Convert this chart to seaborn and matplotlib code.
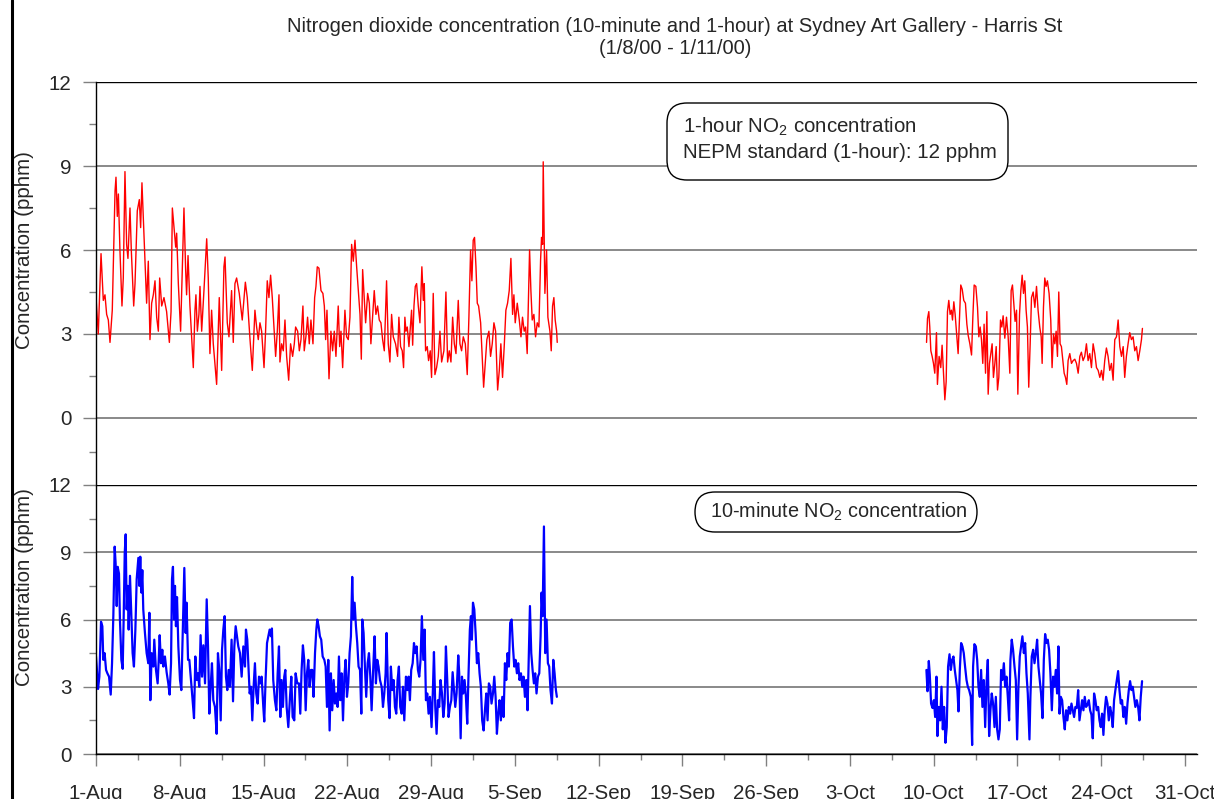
import numpy as np
import pandas as pd
import matplotlib
matplotlib.use("Agg")
import matplotlib.pyplot as plt
import matplotlib.dates as mdates
import seaborn as sns
from matplotlib.patches import FancyBboxPatch
from matplotlib.lines import Line2D
from matplotlib.ticker import FixedLocator, FuncFormatter

# ---------------- data (days since 1 Aug 2000, concentration in pphm) ----------------
START = "2000-08-01"
END = "2000-11-01"

hour_aug_day = [0.00, 0.19, 0.42, 0.61, 0.75, 0.89, 1.03, 1.17, 1.36, 1.59, 1.67, 1.78, 1.87, 2.00, 2.17, 2.28,
    2.42, 2.56, 2.67, 2.84, 2.95, 3.15, 3.26, 3.45, 3.62, 3.73, 3.84, 3.95, 4.09, 4.23, 4.37, 4.51, 4.65, 4.79,
    4.93, 5.07, 5.21, 5.32, 5.49, 5.68, 5.90, 6.13, 6.27, 6.38, 6.52, 6.66, 6.74, 6.88, 7.07, 7.18, 7.35, 7.49,
    7.57, 7.69, 7.85, 7.99, 8.13, 8.27, 8.35, 8.47, 8.60, 8.69, 8.83, 9.02, 9.25, 9.38, 9.52, 9.66, 9.80, 10.08,
    10.30, 10.50, 10.69, 10.78, 10.97, 11.11, 11.33, 11.47, 11.61, 11.75, 11.97, 12.22, 12.48, 12.64,
    12.87, 13.06, 13.28, 13.42, 13.56, 13.70, 13.84, 14.04, 14.17, 14.31, 14.45, 14.59, 14.73, 14.84, 15.01,
    15.15, 15.29, 15.37, 15.51, 15.65, 15.79, 15.93, 16.10, 16.26, 16.43, 16.57, 16.68, 16.85, 16.99, 17.13,
    17.29, 17.40, 17.54, 17.68, 17.82, 17.96, 18.13, 18.27, 18.38, 18.49, 18.63, 18.80, 18.96, 19.08, 19.19,
    19.30, 19.47, 19.63, 19.77, 19.91, 20.05, 20.24, 20.36, 20.47, 20.61, 20.80, 20.94, 21.08, 21.22, 21.36,
    21.50, 21.64, 21.78, 21.92, 22.06, 22.17, 22.28, 22.42, 22.53, 22.70, 22.84, 22.97, 23.11, 23.25, 23.39,
    23.53, 23.67, 23.81, 23.95, 24.09, 24.28, 24.42, 24.56, 24.70, 24.84, 25.03, 25.20, 25.31, 25.45, 25.59,
    25.70, 25.81, 25.90, 26.01, 26.15, 26.29, 26.37, 26.46, 26.57, 26.68, 26.79, 26.93, 27.07, 27.23, 27.35,
    27.43, 27.54, 27.68, 27.79, 27.93, 28.04, 28.18, 28.32, 28.46, 28.60, 28.74, 28.88, 29.07, 29.24, 29.38,
    29.52, 29.66, 29.80, 29.94, 30.08, 30.27, 30.41, 30.55, 30.69, 30.86, 31.02, 31.16, 31.30, 31.41, 31.52,
    31.63, 31.75, 31.86, 31.97, 32.14, 32.27, 32.39, 32.53, 32.66, 32.83, 32.97, 33.11, 33.25, 33.39, 33.56,
    33.70, 33.83, 33.97, 34.11, 34.25, 34.39, 34.53, 34.67, 34.81, 34.92, 35.03, 35.20, 35.37, 35.51, 35.64,
    35.78, 35.90, 36.03, 36.23, 36.34, 36.45, 36.59, 36.73, 36.87, 37.01, 37.15, 37.23, 37.32, 37.37, 37.43,
    37.51, 37.65, 37.76, 37.93, 38.04, 38.15, 38.26, 38.37, 38.49, 38.54]
hour_aug_val = [4.32, 3.0, 5.87, 4.2, 4.4, 3.7, 3.5, 2.7, 3.85, 8.1, 8.6, 7.2, 8.0, 6.0, 4.0, 5.0,
    8.8, 6.2, 5.7, 7.5, 6.0, 4.0, 4.8, 7.4, 7.8, 6.8, 8.4, 7.2, 5.6, 4.1, 5.6, 2.8, 4.1, 4.4,
    4.9, 3.6, 3.1, 5.0, 4.0, 4.3, 3.8, 2.7, 3.8, 7.5, 6.8, 6.1, 6.6, 4.8, 3.1, 4.8, 7.5, 5.3,
    4.4, 5.8, 4.0, 2.9, 1.8, 3.85, 4.4, 3.1, 3.7, 4.7, 3.1, 4.55, 6.4, 5.0, 2.3, 3.85, 2.65, 1.2,
    4.3, 1.7, 5.4, 5.75, 3.4, 2.9, 4.55, 2.7, 4.8, 5.0, 4.45, 3.5, 4.85, 4.3,
    2.8, 1.7, 3.85, 3.25, 2.8, 3.4, 3.1, 1.8, 3.1, 4.9, 4.3, 5.1, 4.3, 3.5, 2.2,
    3.1, 4.4, 2.0, 2.65, 2.4, 3.5, 2.2, 1.35, 2.65, 2.2, 2.65, 3.25, 3.1, 2.4, 2.8,
    4.0, 2.4, 2.9, 3.6, 2.65, 3.5, 2.65, 4.3, 4.7, 5.4, 5.35, 4.55, 4.45, 4.0, 2.8,
    3.85, 1.4, 3.1, 2.4, 3.1, 2.2, 4.0, 2.55, 3.1, 1.8, 3.85, 2.9, 2.8, 3.6, 6.2,
    5.6, 6.35, 5.4, 4.55, 3.7, 2.1, 5.3, 4.2, 3.4, 4.45, 4.1, 2.65, 3.6, 4.55, 3.7,
    4.0, 3.5, 3.4, 2.8, 2.4, 4.9, 2.65, 2.0, 3.7, 2.9, 2.65, 2.2, 3.6, 2.55, 2.4,
    1.8, 3.6, 3.1, 3.25, 2.55, 3.4, 3.85, 2.6, 4.0, 4.7, 4.8, 4.0, 3.4, 5.4, 4.2,
    4.8, 2.4, 2.55, 2.05, 2.4, 1.45, 4.45, 1.55, 1.8, 2.2, 3.1, 2.0, 2.4, 4.5, 2.0,
    2.4, 2.0, 3.6, 2.65, 2.3, 4.2, 2.65, 2.4, 2.9, 2.65, 1.55, 3.6, 6.0, 4.9, 6.35,
    6.45, 5.4, 4.1, 4.0, 3.4, 2.2, 1.1, 2.0, 2.8, 3.1, 2.2, 2.65, 3.4, 3.1, 1.0,
    1.7, 2.65, 1.45, 2.55, 3.85, 4.1, 4.55, 5.7, 3.7, 4.4, 3.4, 4.1, 3.5, 2.9, 3.6,
    3.1, 3.25, 2.3, 6.0, 4.55, 3.5, 3.7, 2.9, 3.4, 3.25, 5.65, 6.45, 6.2, 9.15, 7.2,
    4.45, 6.0, 3.6, 3.1, 2.4, 4.0, 4.3, 3.5, 3.1, 2.7]

hour_oct_day = [69.40, 69.48, 69.59, 69.67, 69.76, 69.87, 69.98, 70.09, 70.23, 70.31, 70.45, 70.59, 70.70,
    70.82, 70.93, 71.04, 71.15, 71.26, 71.37, 71.48, 71.57, 71.68, 71.79, 71.90, 72.04, 72.15, 72.26, 72.38,
    72.51, 72.65, 72.77, 72.88, 73.02, 73.16, 73.27, 73.38, 73.52, 73.66, 73.77, 73.88, 73.99, 74.10, 74.21,
    74.33, 74.44, 74.55, 74.66, 74.77, 74.88, 74.99, 75.11, 75.22, 75.33, 75.44, 75.58, 75.69, 75.80, 75.94,
    76.08, 76.22, 76.36, 76.47, 76.58, 76.69, 76.80, 76.92, 77.03, 77.17, 77.28, 77.39, 77.50, 77.61, 77.72,
    77.83, 77.94, 78.06, 78.17, 78.31, 78.45, 78.59, 78.72, 78.86, 78.98, 79.06, 79.17, 79.28, 79.39, 79.50,
    79.64, 79.78, 79.89, 80.01, 80.12, 80.23, 80.34, 80.45, 80.56, 80.67, 80.79, 80.90, 81.01, 81.12, 81.23,
    81.37, 81.51, 81.65, 81.79, 81.93, 82.07, 82.21, 82.34, 82.48, 82.62, 82.76, 82.90, 83.04, 83.18, 83.32,
    83.46, 83.60, 83.74, 83.88, 84.02, 84.15, 84.29, 84.43, 84.57, 84.71, 84.85, 84.99, 85.13, 85.27, 85.41,
    85.55, 85.69, 85.83, 85.96, 86.10, 86.24, 86.38, 86.52, 86.66, 86.80, 86.94, 87.08, 87.22, 87.36, 87.44]
hour_oct_val = [2.7, 3.55, 3.8, 3.25, 2.4, 2.2, 1.95, 1.6, 3.05, 1.2, 2.2, 1.8, 2.6,
    1.6, 0.65, 1.3, 3.8, 4.2, 3.7, 3.85, 3.5, 4.15, 3.7, 3.1, 2.3, 3.5, 4.75, 4.6,
    4.2, 4.1, 3.35, 2.95, 2.65, 2.25, 3.6, 4.75, 4.7, 3.95, 2.9, 3.25, 2.8, 1.95, 3.35,
    1.6, 3.8, 0.85, 1.95, 2.3, 2.65, 1.45, 1.95, 2.55, 1.0, 1.45, 3.5, 3.25, 3.65, 2.85,
    3.6, 2.9, 1.6, 4.55, 4.75, 4.1, 3.45, 3.85, 0.85, 3.7, 4.55, 5.1, 4.45, 4.9, 3.85,
    3.25, 1.1, 2.65, 4.3, 4.5, 3.95, 4.7, 3.85, 3.25, 2.9, 1.95, 3.95, 5.0, 4.7, 4.9,
    4.45, 3.5, 1.8, 3.0, 2.65, 3.1, 2.2, 4.5, 2.65, 2.55, 2.05, 1.6, 1.45, 1.2, 2.05,
    2.3, 1.95, 2.05, 2.1, 1.95, 1.6, 2.2, 2.35, 2.05, 2.2, 2.65, 2.05, 2.3, 1.8, 2.65,
    2.3, 1.8, 1.7, 1.45, 1.7, 1.35, 2.05, 2.5, 2.2, 1.7, 1.95, 1.35, 2.8, 2.9, 3.5,
    2.55, 2.2, 2.55, 1.45, 2.2, 2.65, 3.05, 2.8, 2.9, 2.4, 2.55, 2.05, 2.4, 2.8, 3.2]

min10_aug_day = [0.00, 0.06, 0.17, 0.28, 0.42, 0.53, 0.61, 0.72, 0.84, 0.95, 1.09, 1.23, 1.34, 1.45, 1.56,
    1.64, 1.73, 1.81, 1.92, 2.00, 2.12, 2.23, 2.31, 2.40, 2.48, 2.56, 2.65, 2.73, 2.84, 2.95, 3.06, 3.17, 3.29,
    3.40, 3.54, 3.62, 3.70, 3.79, 3.87, 3.95, 4.09, 4.23, 4.37, 4.46, 4.54, 4.65, 4.79, 4.87, 5.01, 5.15, 5.24,
    5.32, 5.43, 5.54, 5.63, 5.76, 5.90, 6.04, 6.15, 6.27, 6.35, 6.43, 6.52, 6.60, 6.68, 6.77, 6.88, 7.02, 7.13,
    7.24, 7.38, 7.49, 7.57, 7.69, 7.80, 7.94, 8.05, 8.19, 8.30, 8.41, 8.52, 8.63, 8.74, 8.86, 8.97, 9.11, 9.25,
    9.36, 9.47, 9.58, 9.69, 9.80, 9.94, 10.08, 10.19, 10.30, 10.42, 10.53, 10.64, 10.75, 10.86, 10.97, 11.08,
    11.19, 11.33, 11.45, 11.56, 11.67, 11.78, 11.89, 12.03, 12.17, 12.31, 12.45, 12.53, 12.64,
    12.84, 12.95, 13.06, 13.17, 13.28, 13.39, 13.51, 13.62, 13.73, 13.84, 13.98, 14.06, 14.17, 14.29, 14.40,
    14.51, 14.62, 14.70, 14.81, 14.95, 15.07, 15.18, 15.29, 15.40, 15.51, 15.62, 15.73, 15.82, 15.93, 16.07,
    16.21, 16.32, 16.43, 16.57, 16.68, 16.82, 16.96, 17.07, 17.18, 17.29, 17.40, 17.52, 17.63, 17.74, 17.85,
    17.96, 18.07, 18.18, 18.30, 18.41, 18.49, 18.60, 18.71, 18.82, 18.94, 19.08, 19.19, 19.30, 19.41, 19.52,
    19.63, 19.74, 19.86, 19.97, 20.08, 20.19, 20.30, 20.41, 20.52, 20.64, 20.75, 20.86, 20.97, 21.08, 21.19,
    21.30, 21.41, 21.50, 21.61, 21.72, 21.83, 21.94, 22.06, 22.17, 22.25, 22.36, 22.47, 22.58, 22.70, 22.81,
    22.92, 23.03, 23.17, 23.28, 23.39, 23.50, 23.61, 23.73, 23.87, 23.98, 24.09, 24.20, 24.28, 24.42, 24.53,
    24.64, 24.76, 24.87, 24.98, 25.09, 25.20, 25.31, 25.42, 25.54, 25.65, 25.76,
    25.90, 26.01, 26.12, 26.23, 26.34, 26.46, 26.57, 26.68, 26.79, 26.90, 27.01, 27.12, 27.23, 27.35, 27.46,
    27.57, 27.68, 27.79, 27.90, 28.04, 28.15, 28.24, 28.35, 28.46, 28.57, 28.68, 28.79, 28.91, 29.02, 29.13,
    29.24, 29.35, 29.46, 29.57, 29.69, 29.80, 29.91, 30.02, 30.13, 30.27, 30.35, 30.47, 30.58, 30.69, 30.80,
    30.91, 31.02, 31.13, 31.24, 31.33, 31.41, 31.50, 31.61, 31.72, 31.83, 31.94, 32.05, 32.16, 32.27, 32.39,
    32.50, 32.61, 32.72, 32.83, 32.94, 33.05, 33.17, 33.28, 33.39, 33.50, 33.61, 33.72, 33.83, 33.95, 34.06,
    34.17, 34.28, 34.39, 34.50, 34.61, 34.73, 34.84, 34.95, 35.06, 35.17, 35.28, 35.39, 35.51, 35.62, 35.73,
    35.84, 35.95, 36.06, 36.17, 36.26, 36.37, 36.48, 36.59, 36.70, 36.81, 36.93, 37.04, 37.15, 37.23, 37.32,
    37.37, 37.43, 37.48, 37.54, 37.65, 37.76, 37.87, 37.98, 38.10, 38.21, 38.32, 38.43, 38.51]
min10_aug_val = [4.35, 3.9, 2.9, 3.45, 5.9, 5.7, 4.2, 4.5, 3.75, 3.6, 3.45, 2.65, 4.05, 6.2, 9.25,
    8.5, 6.6, 8.35, 8.05, 6.0, 4.2, 3.8, 6.0, 8.95, 9.8, 6.45, 7.5, 5.55, 7.95, 6.15, 4.5, 3.9, 5.55,
    7.8, 8.75, 7.5, 8.8, 7.2, 8.2, 6.45, 5.4, 4.5, 4.05, 6.3, 2.4, 4.5, 3.9, 5.1, 3.75, 3.15, 4.2,
    5.3, 4.05, 4.65, 3.9, 4.35, 3.65, 3.15, 2.65, 4.05, 7.8, 8.35, 6.0, 7.5, 5.7, 7.0, 4.8, 3.3, 2.85,
    5.25, 8.3, 5.4, 6.75, 4.2, 4.2, 3.3, 2.55, 1.6, 4.35, 3.3, 3.6, 3.0, 5.3, 3.45, 4.85, 3.15, 6.9,
    4.8, 1.8, 3.0, 4.05, 2.4, 2.1, 0.9, 4.5, 3.75, 1.5, 4.65, 5.55, 6.15, 3.45, 2.85, 3.75,
    3.0, 5.1, 2.35, 4.8, 5.7, 5.25, 4.8, 4.5, 3.45, 4.8, 3.9, 5.55, 5.1,
    2.7, 3.0, 1.5, 3.0, 4.05, 2.7, 2.25, 3.45, 3.15, 3.45, 2.1, 1.45, 3.3, 4.95, 5.25,
    5.55, 5.25, 5.6, 3.3, 2.4, 1.95, 3.6, 4.8, 1.65, 3.3, 2.1, 3.45, 3.75, 2.1, 1.2,
    2.55, 3.45, 1.65, 1.5, 3.6, 3.15, 3.15, 1.8, 3.75, 4.85, 4.2, 1.95, 3.6, 4.2, 3.0,
    3.75, 3.75, 2.55, 4.5, 5.55, 6.0, 5.7, 5.25, 5.1, 4.35, 4.2, 3.9, 2.1, 4.2, 1.05,
    3.6, 1.95, 3.3, 2.25, 2.7, 2.1, 4.35, 2.4, 3.6, 1.5, 3.45, 4.2, 2.55, 3.15, 4.5,
    5.25, 7.9, 6.0, 6.75, 5.7, 4.95, 3.9, 3.75, 1.8, 6.0, 5.4, 3.9, 2.55, 4.05, 4.5,
    3.45, 1.95, 3.9, 5.25, 3.15, 4.2, 3.9, 3.3, 3.0, 2.1, 2.7, 3.6, 5.4, 2.4, 1.6,
    3.9, 2.85, 3.3, 2.1, 1.8, 3.3, 3.9, 2.1, 1.8, 3.0, 1.5,
    3.45, 2.85, 3.45, 2.4, 3.75, 4.05, 4.95, 4.5, 4.8, 3.75, 3.45, 4.2, 6.15, 4.2, 5.55,
    2.4, 2.7, 1.8, 2.55, 1.2, 2.85, 4.55, 2.1, 0.9, 2.4, 2.1, 3.3, 2.7, 1.65, 2.25,
    4.8, 3.3, 1.65, 2.1, 2.4, 3.65, 2.85, 2.1, 2.7, 4.4, 3.6, 0.7, 3.45, 2.7, 3.3,
    2.55, 1.35, 3.6, 5.55, 6.15, 5.1, 6.75, 6.45, 5.4, 4.05, 4.5, 3.6, 3.0, 1.5, 1.05,
    1.95, 2.7, 1.5, 3.15, 3.0, 2.25, 2.7, 3.45, 2.55, 0.9, 1.8, 2.4, 1.5, 2.55, 1.65,
    4.05, 3.3, 4.5, 3.9, 5.85, 6.0, 4.8, 3.9, 4.2, 3.6, 4.05, 3.3, 3.6, 3.0, 3.45,
    2.55, 3.3, 1.95, 4.5, 6.6, 4.5, 3.75, 3.15, 3.6, 2.7, 3.45, 3.6, 5.25, 7.2, 6.15,
    7.9, 10.15, 7.5, 4.5, 6.0, 4.05, 3.9, 2.85, 2.25, 4.2, 3.6, 2.85, 2.55]

min10_oct_day = [69.39, 69.48, 69.59, 69.67, 69.78, 69.90, 70.01, 70.12, 70.23, 70.31, 70.42, 70.54, 70.65,
    70.76, 70.87, 70.98, 71.09, 71.20, 71.32, 71.43, 71.54, 71.65, 71.76, 71.87, 71.98, 72.07, 72.18, 72.29,
    72.40, 72.51, 72.62, 72.74, 72.85, 72.96, 73.10, 73.21, 73.29, 73.40, 73.52, 73.63, 73.74, 73.85, 73.96,
    74.07, 74.18, 74.30, 74.41, 74.52, 74.63, 74.74, 74.85, 74.96, 75.08, 75.19, 75.30, 75.41, 75.52, 75.63,
    75.74, 75.86, 75.97, 76.08, 76.19, 76.30, 76.41, 76.52, 76.63, 76.75, 76.86, 76.97, 77.08, 77.19, 77.30,
    77.41, 77.53, 77.64, 77.75, 77.86, 78.00, 78.08, 78.19, 78.31, 78.42, 78.53, 78.64, 78.75, 78.86, 78.97,
    79.09, 79.20, 79.31, 79.42, 79.53, 79.64, 79.75, 79.87, 79.98, 80.09, 80.20, 80.31, 80.42, 80.51, 80.62,
    80.73, 80.84, 80.95, 81.06, 81.17, 81.29, 81.40, 81.51, 81.62, 81.73, 81.84, 81.95, 82.07, 82.18, 82.29,
    82.40, 82.51, 82.62, 82.73, 82.85, 82.96, 83.07, 83.18, 83.29, 83.40, 83.51, 83.62, 83.74, 83.85, 83.96,
    84.07, 84.18, 84.29, 84.40, 84.52, 84.63, 84.74, 84.85, 84.96, 85.07, 85.18, 85.30, 85.41, 85.52, 85.63,
    85.74, 85.85, 85.96, 86.08, 86.19, 86.30, 86.41, 86.52, 86.63, 86.74, 86.85, 86.97, 87.08, 87.19, 87.30,
    87.41]
min10_oct_val = [3.75, 2.8, 4.15, 3.55, 2.25, 2.05, 2.4, 1.65, 3.45, 0.8, 2.1, 1.5, 3.0,
    1.1, 2.1, 0.5, 1.2, 3.9, 4.45, 3.75, 4.2, 4.35, 3.75, 3.3, 2.85, 1.9, 3.75, 4.95,
    4.8, 4.5, 3.9, 3.3, 3.0, 2.85, 2.55, 0.4, 3.9, 4.9, 4.8, 4.2, 3.0, 2.55, 3.75,
    2.1, 3.3, 1.2, 3.15, 4.2, 0.8, 1.95, 2.7, 2.25, 1.2, 2.55, 1.1, 0.65, 1.1, 3.75,
    3.3, 4.05, 3.0, 3.45, 2.55, 1.5, 4.2, 5.1, 4.65, 3.9, 3.3, 0.65, 3.0, 4.35, 4.8,
    5.25, 4.5, 4.95, 3.6, 2.7, 0.65, 2.55, 4.35, 4.65, 4.05, 4.5, 5.1, 3.9, 3.3, 2.7,
    1.6, 4.2, 5.35, 4.95, 5.1, 4.65, 3.6, 1.95, 3.45, 3.0, 3.75, 2.7, 4.8, 1.8, 2.55,
    2.4, 1.65, 1.1, 1.95, 1.5, 2.1, 1.8, 2.25, 1.95, 1.65, 2.1, 2.05, 2.85, 1.5, 1.95,
    2.4, 1.95, 2.55, 2.1, 2.2, 2.4, 1.95, 1.75, 0.7, 2.7, 2.4, 1.95, 2.1, 1.5, 1.2,
    1.8, 0.85, 1.95, 2.55, 2.25, 1.5, 2.1, 1.8, 1.2, 2.4, 2.85, 3.3, 3.7, 2.85, 2.25,
    2.4, 1.65, 2.1, 1.35, 2.25, 2.85, 3.25, 2.85, 3.0, 2.55, 2.1, 2.4, 2.1, 1.5, 2.55,
    3.25]

title_lines = ["Nitrogen dioxide concentration (10-minute and 1-hour) at Sydney Art Gallery - Harris St",
               "(1/8/00 - 1/11/00)"]
y_label = "Concentration (pphm)"
note_hour = ["1-hour NO$_2$ concentration", "NEPM standard (1-hour): 12 pphm"]
note_10min = "10-minute NO$_2$ concentration"
y_ticks = [0, 3, 6, 9, 12]

# ---------------- build frames ----------------
start = pd.Timestamp(START)


def frame(segments):
    parts = []
    for k, (d, v) in enumerate(segments):
        t = start + pd.to_timedelta(np.asarray(d, dtype=float), unit="D")
        parts.append(pd.DataFrame({"time": t, "pphm": v, "seg": k}))
    return pd.concat(parts, ignore_index=True)


df_hour = frame([(hour_aug_day, hour_aug_val), (hour_oct_day, hour_oct_val)])
df_10 = frame([(min10_aug_day, min10_aug_val), (min10_oct_day, min10_oct_val)])

# ---------------- style ----------------
sns.set_style("white")
plt.rcParams["font.family"] = ["Liberation Sans", "DejaVu Sans"]
plt.rcParams["mathtext.fontset"] = "custom"
plt.rcParams["mathtext.rm"] = "Liberation Sans"
plt.rcParams["mathtext.it"] = "Liberation Sans:italic"
plt.rcParams["mathtext.default"] = "regular"

W, H = 1214, 799
fig = plt.figure(figsize=(W / 100, H / 100), dpi=100)
fig.patch.set_facecolor("white")


def fx(px):
    return px / W


def fy(py):
    return 1 - py / H


left, right = 96, 1197
ax1 = fig.add_axes([fx(left), fy(485), fx(right - left), fy(82) - fy(485)])
ax2 = fig.add_axes([fx(left), fy(754), fx(right - left), fy(485) - fy(754)])

sns.lineplot(data=df_hour, x="time", y="pphm", units="seg", estimator=None, sort=False,
             color="#FF0000", linewidth=1.0, ax=ax1)
sns.lineplot(data=df_10, x="time", y="pphm", units="seg", estimator=None, sort=False,
             color="#0000FF", linewidth=1.6, ax=ax2)

GRID = "#808080"
FS = 14.8
FS_T = 14.5
FS_N2 = 14.3
xlim = (mdates.date2num(pd.Timestamp(START)), mdates.date2num(pd.Timestamp(END)))
major_dates = pd.date_range(START, "2000-10-31", freq="7D")
minor_dates = pd.date_range(START, "2000-10-31", freq="84h")

for ax, ymin in ((ax1, -67 / 28), (ax2, 0)):
    ax.set_xlim(*xlim)
    ax.set_ylim(ymin, 12)
    ax.set_xlabel("")
    ax.set_ylabel("")
    ax.set_facecolor("white")
    for s in ("right", "bottom", "top"):
        ax.spines[s].set_visible(False)
    ax.spines["left"].set_color("black")
    ax.spines["left"].set_linewidth(1.0)
    ax.yaxis.set_major_locator(FixedLocator(y_ticks))
    ax.tick_params(axis="y", which="major", direction="out", length=9.5, width=1.0, color=GRID,
                   labelsize=FS, pad=8.0, left=True)
    ax.tick_params(axis="y", which="minor", direction="out", length=5, width=1.0, color=GRID, left=True)
    for yv in y_ticks[:-1]:
        ax.axhline(yv, color=GRID, linewidth=1.3, zorder=0.5)
    ax.axhline(12, color="black", linewidth=1.0, zorder=0.5)

ax1.yaxis.set_minor_locator(FixedLocator([-1.2, 1.5, 4.5, 7.5, 10.5]))
ax2.yaxis.set_minor_locator(FixedLocator([1.5, 4.5, 7.5, 10.5]))
ax1.tick_params(axis="x", which="both", bottom=False, labelbottom=False)

ax2.spines["bottom"].set_visible(True)
ax2.spines["bottom"].set_color("black")
ax2.spines["bottom"].set_linewidth(1.0)
ax2.xaxis.set_major_locator(FixedLocator(mdates.date2num(major_dates)))
ax2.xaxis.set_minor_locator(FixedLocator(mdates.date2num(minor_dates)))
ax2.xaxis.set_major_formatter(FuncFormatter(
    lambda v, p: (lambda d: f"{d.day}-{d.strftime('%b')}")(mdates.num2date(v))))
ax2.tick_params(axis="x", which="major", direction="out", length=8.5, width=1.0, color=GRID,
                labelsize=FS, pad=13, bottom=True)
ax2.tick_params(axis="x", which="minor", direction="out", length=4.3, width=1.0, color=GRID, bottom=True)

# ---------------- texts ----------------
fig.text(fx(675), fy(27), title_lines[0], ha="center", va="center", fontsize=FS_T)
fig.text(fx(675), fy(48), title_lines[1], ha="center", va="center", fontsize=FS_T)
fig.text(fx(25), fy(250), y_label, rotation=90, ha="center", va="center", fontsize=FS)
fig.text(fx(25), fy(587), y_label, rotation=90, ha="center", va="center", fontsize=FS)


def note_box(x0, y0, x1, y1):
    p = FancyBboxPatch((x0 / 100, (H - y1) / 100), (x1 - x0) / 100, (y1 - y0) / 100,
                       boxstyle="round,pad=0,rounding_size=0.2", transform=fig.dpi_scale_trans,
                       facecolor="white", edgecolor="black", linewidth=1.0, zorder=5)
    fig.add_artist(p)


note_box(667, 103, 1008, 180)
fig.text(fx(683), fy(127), note_hour[0], ha="left", va="center", fontsize=FS, zorder=6)
fig.text(fx(683), fy(153), note_hour[1], ha="left", va="center", fontsize=FS, zorder=6)
note_box(695, 492, 977, 532)
fig.text(fx(710), fy(512), note_10min, ha="left", va="center", fontsize=FS_N2, zorder=6)

# chart frame edge on the left
fig.add_artist(Line2D([fx(11.5), fx(11.5)], [0, 1], color="black", linewidth=2.2, transform=fig.transFigure))

fig.savefig("out.png", dpi=100, facecolor="white")
